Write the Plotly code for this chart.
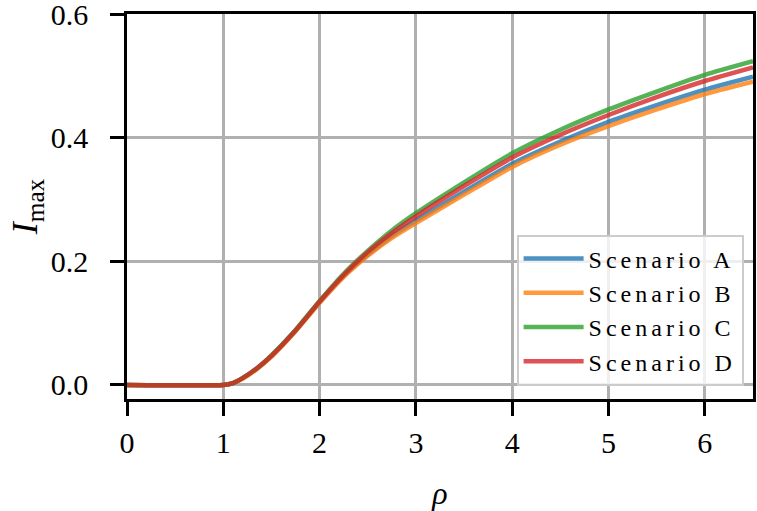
import plotly.graph_objects as go

rho = [0, 1.0, 1.1, 1.2, 1.35, 1.5, 1.75, 2.0, 2.25, 2.5, 2.75, 3.0, 3.5, 4.0, 4.5, 5.0, 5.5, 6.0, 6.5]
scenario_a = [0, 0, 0.003, 0.011, 0.027, 0.047, 0.088, 0.134, 0.176, 0.211, 0.241, 0.266, 0.313, 0.358, 0.394, 0.426, 0.453, 0.478, 0.499]
scenario_b = [0, 0, 0.003, 0.010, 0.026, 0.046, 0.087, 0.133, 0.175, 0.209, 0.238, 0.262, 0.308, 0.353, 0.389, 0.419, 0.446, 0.471, 0.491]
scenario_c = [0, 0, 0.003, 0.011, 0.027, 0.048, 0.089, 0.136, 0.180, 0.217, 0.250, 0.278, 0.328, 0.375, 0.413, 0.446, 0.475, 0.502, 0.524]
scenario_d = [0, 0, 0.003, 0.011, 0.027, 0.047, 0.088, 0.135, 0.178, 0.215, 0.246, 0.273, 0.322, 0.368, 0.405, 0.437, 0.466, 0.492, 0.514]

names = ["Scenario A", "Scenario B", "Scenario C", "Scenario D"]
colors = ["#1f77b4", "#ff7f0e", "#2ca02c", "#d62728"]
x_ticks = [0, 1, 2, 3, 4, 5, 6]
y_ticks = [0.0, 0.2, 0.4, 0.6]

FONT = "Liberation Serif, DejaVu Serif, serif"

fig = go.Figure()
for name, ys, col in zip(names, [scenario_a, scenario_b, scenario_c, scenario_d], colors):
    fig.add_trace(go.Scatter(
        x=rho, y=ys, mode="lines",
        name="<span style='letter-spacing:4px'>" + name + "</span>",
        line=dict(color=col, width=4.5, shape="spline", smoothing=0.6),
        opacity=0.8,
    ))

axis_common = dict(
    showline=True, linecolor="black", linewidth=2.5, mirror=True,
    ticks="outside", ticklen=14, tickwidth=2.5, tickcolor="black",
    showgrid=True, gridcolor="#b0b0b0", gridwidth=2.5,
    zeroline=False, ticklabeloverflow="allow", automargin=False,
    tickfont=dict(size=30, family=FONT, color="black"),
)

fig.update_layout(
    width=757, height=511,
    margin=dict(l=127, r=4, t=14, b=112),
    plot_bgcolor="white", paper_bgcolor="white",
    font=dict(family=FONT, color="black"),
    showlegend=True,
    legend=dict(
        x=0.985, y=0.035, xanchor="right", yanchor="bottom",
        bgcolor="rgba(255,255,255,0.8)", bordercolor="#cccccc", borderwidth=2,
        font=dict(size=24, family=FONT, color="black"),
        itemwidth=60,
    ),
    xaxis=dict(
        range=[0, 6.5], tickvals=x_ticks, ticktext=[str(v) for v in x_ticks],
        title=dict(text="<i>ρ</i>", font=dict(size=32, family=FONT), standoff=27),
        ticklabelstandoff=1,
        **axis_common,
    ),
    yaxis=dict(
        range=[-0.0228, 0.6005], tickvals=y_ticks, ticktext=[f"{v:.1f}" for v in y_ticks],
        title=dict(text="<i>I</i><sub>max</sub>", font=dict(size=36, family=FONT), standoff=3),
        ticklabelstandoff=16,
        **axis_common,
    ),
)

# drop the default 8px body margin so the figure sits at the page corner
fig.write_html(
    "out.html",
    config={"displayModeBar": False},
    post_script="document.body.style.margin='0';",
)
